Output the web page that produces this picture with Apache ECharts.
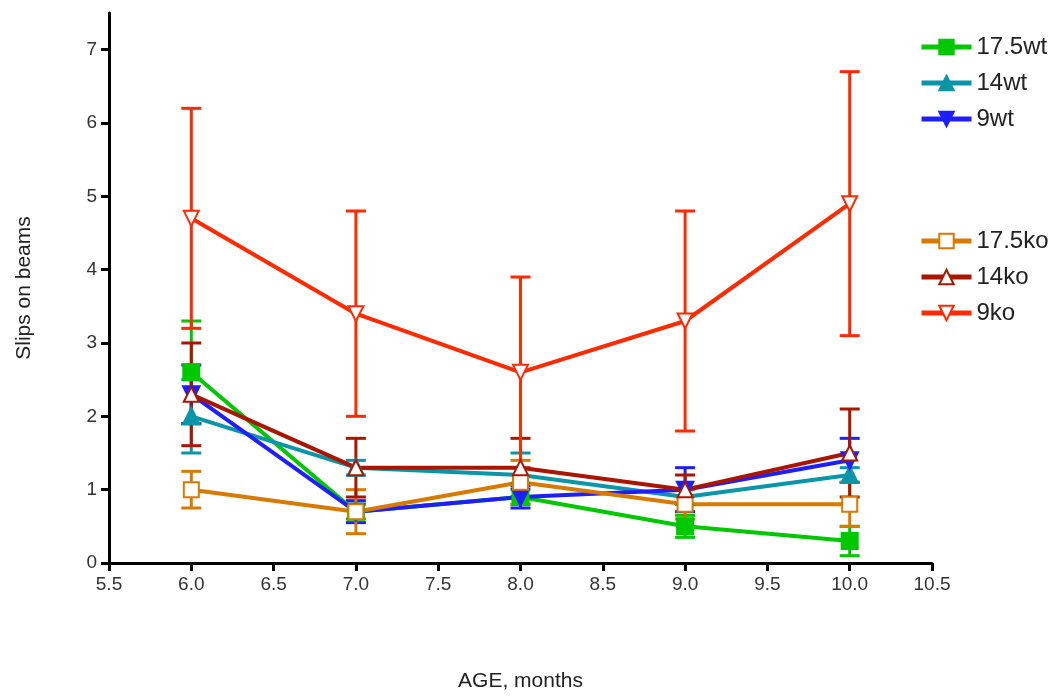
<!DOCTYPE html>
<html>
<head>
<meta charset="utf-8">
<script src="https://cdn.jsdelivr.net/npm/echarts@6/dist/echarts.min.js"></script>
<style>
  html, body { margin: 0; padding: 0; background: #fff; }
  #chart { width: 1062px; height: 697px; }
</style>
</head>
<body>
<div id="chart"></div>
<script>
// 月龄
var ages = [6, 7, 8, 9, 10];

// 各组均值
var wt175 = [2.6, 0.7, 0.9, 0.5, 0.3];
var wt14 = [2.0, 1.3, 1.2, 0.9, 1.2];
var wt9 = [2.3, 0.7, 0.9, 1.0, 1.4];
var ko175 = [1.0, 0.7, 1.1, 0.8, 0.8];
var ko14 = [2.3, 1.3, 1.3, 1.0, 1.5];
var ko9 = [4.7, 3.4, 2.6, 3.3, 4.9];

// 误差 (±)
var wt175Err = [0.7, 0.1, 0.1, 0.15, 0.2];
var wt14Err = [0.5, 0.1, 0.3, 0.1, 0.1];
var wt9Err = [0.4, 0.15, 0.15, 0.3, 0.3];
var ko175Err = [0.25, 0.3, 0.3, 0.2, 0.3];
var ko14Err = [0.7, 0.4, 0.4, 0.2, 0.6];
var ko9Err = [1.5, 1.4, 1.3, 1.5, 1.8];

var groups = [
  { name: '17.5wt', mean: wt175, err: wt175Err, color: '#00c800', symbol: 'rect', rotate: 0 },
  { name: '14wt', mean: wt14, err: wt14Err, color: '#0a96a8', symbol: 'triangle', rotate: 0 },
  { name: '9wt', mean: wt9, err: wt9Err, color: '#1e1eff', symbol: 'triangle', rotate: 180 },
  { name: '17.5ko', mean: ko175, err: ko175Err, color: '#d97a00', symbol: 'emptyRect', rotate: 0 },
  { name: '14ko', mean: ko14, err: ko14Err, color: '#aa1500', symbol: 'emptyTriangle', rotate: 0 },
  { name: '9ko', mean: ko9, err: ko9Err, color: '#ff2a00', symbol: 'emptyTriangle', rotate: 180 }
];

var chart = echarts.init(document.getElementById('chart'), null, { renderer: 'canvas' });

// 误差线
function errorBar(color) {
  return function (params, api) {
    var x = api.value(0);
    var top = api.coord([x, api.value(2)]);
    var bot = api.coord([x, api.value(1)]);
    var w = 10;
    var st = { stroke: color, lineWidth: 3 };
    return {
      type: 'group',
      children: [
        { type: 'line', shape: { x1: top[0], y1: top[1], x2: bot[0], y2: bot[1] }, style: st },
        { type: 'line', shape: { x1: top[0] - w, y1: top[1], x2: top[0] + w, y2: top[1] }, style: st },
        { type: 'line', shape: { x1: bot[0] - w, y1: bot[1], x2: bot[0] + w, y2: bot[1] }, style: st }
      ]
    };
  };
}

var series = [];
groups.forEach(function (g) {
  series.push({
    name: g.name + '_err',
    type: 'custom',
    renderItem: errorBar(g.color),
    data: ages.map(function (a, i) {
      return [a, g.mean[i] - g.err[i], g.mean[i] + g.err[i]];
    }),
    z: 2,
    silent: true
  });
});
groups.forEach(function (g) {
  series.push({
    name: g.name,
    type: 'line',
    data: ages.map(function (a, i) { return [a, g.mean[i]]; }),
    symbol: g.symbol,
    symbolSize: 15,
    symbolRotate: g.rotate,
    showAllSymbol: true,
    lineStyle: { color: g.color, width: 4 },
    itemStyle: { color: g.color, borderColor: g.color, borderWidth: 3 },
    z: 3
  });
});

var legendBase = {
  orient: 'vertical',
  left: 914,
  itemWidth: 50,
  itemHeight: 18,
  itemGap: 12,
  lineStyle: { width: 5 },
  textStyle: { fontFamily: 'Liberation Sans', fontSize: 24, color: '#222' }
};

var option = {
  backgroundColor: '#fff',
  animation: false,
  grid: { left: 109, right: 130, top: 13, bottom: 134 },
  legend: [
    Object.assign({}, legendBase, { top: 30, data: ['17.5wt', '14wt', '9wt'] }),
    Object.assign({}, legendBase, { top: 224, data: ['17.5ko', '14ko', '9ko'] })
  ],
  xAxis: {
    type: 'value',
    min: 5.5,
    max: 10.5,
    interval: 0.5,
    name: 'AGE, months',
    nameLocation: 'middle',
    nameGap: 108,
    nameTextStyle: { fontFamily: 'Liberation Sans', fontSize: 21, color: '#222' },
    axisLine: { show: true, lineStyle: { color: '#000', width: 3 } },
    axisTick: { show: true, length: 8, lineStyle: { color: '#000', width: 3 } },
    axisLabel: {
      fontFamily: 'Liberation Sans', fontSize: 19, color: '#333', margin: 12,
      formatter: function (v) { return v.toFixed(1); }
    },
    splitLine: { show: false }
  },
  yAxis: {
    type: 'value',
    min: 0,
    max: 7.5,
    interval: 1,
    name: 'Slips on beams',
    nameLocation: 'middle',
    nameGap: 74,
    nameTextStyle: { fontFamily: 'Liberation Sans', fontSize: 21, color: '#222' },
    axisLine: { show: true, lineStyle: { color: '#000', width: 3 } },
    axisTick: { show: true, length: 8, lineStyle: { color: '#000', width: 3 } },
    axisLabel: { fontFamily: 'Liberation Sans', fontSize: 19, color: '#333', margin: 12, showMaxLabel: false },
    splitLine: { show: false }
  },
  series: series
};

chart.setOption(option);
</script>
</body>
</html>
